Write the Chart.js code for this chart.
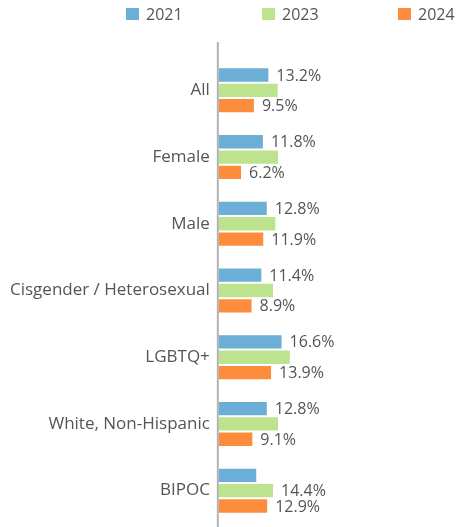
<!DOCTYPE html>
<html>
<head>
<meta charset="utf-8">
<script src="https://cdn.jsdelivr.net/npm/chart.js@4/dist/chart.umd.min.js"></script>
<style>
  html, body { margin: 0; padding: 0; background: #fff; }
  #wrap { width: 462px; height: 527px; position: relative; }
</style>
</head>
<body>
<div id="wrap"><canvas id="chart"></canvas></div>
<script>
const categories = ['All', 'Female', 'Male', 'Cisgender / Heterosexual', 'LGBTQ+', 'White, Non-Hispanic', 'BIPOC'];
const seriesNames = ['2021', '2023', '2024'];
const vals2021 = [13.2, 11.8, 12.8, 11.4, 16.6, 12.8, 10.1];
const vals2023 = [15.6, 15.7, 15.0, 14.4, 18.7, 15.7, 14.4];
const vals2024 = [9.5, 6.2, 11.9, 8.9, 13.9, 9.1, 12.9];
// which value labels are printed (the others overlap in the original)
const show2021 = [1, 1, 1, 1, 1, 1, 0];
const show2023 = [0, 0, 0, 0, 0, 0, 1];
const show2024 = [1, 1, 1, 1, 1, 1, 1];

const colors = ['#6baed6', '#bde38f', '#fd8d3c'];
const textColor = '#555';

const valueLabels = {
    id: 'valueLabels',
    afterDatasetsDraw(chart) {
        const ctx = chart.ctx;
        const shows = [show2021, show2023, show2024];
        ctx.save();
        ctx.font = '16px "Open Sans"';
        ctx.fillStyle = textColor;
        ctx.textAlign = 'left';
        ctx.textBaseline = 'middle';
        chart.data.datasets.forEach((ds, i) => {
            chart.getDatasetMeta(i).data.forEach((bar, j) => {
                if (!shows[i][j]) return;
                ctx.fillText(ds.data[j].toFixed(1) + '%', bar.x + 7, bar.y + 1);
            });
        });
        ctx.restore();
    }
};

// legend spread across the top + the axis line running full height
const topLegend = {
    id: 'topLegend',
    afterDraw(chart) {
        const ctx = chart.ctx;
        ctx.save();
        ctx.font = '16px "Open Sans"';
        ctx.textBaseline = 'middle';
        chart.data.datasets.forEach((ds, i) => {
            const x = 126 + i * 136;
            ctx.fillStyle = ds.backgroundColor;
            ctx.fillRect(x, 8, 13, 12);
            ctx.fillStyle = textColor;
            ctx.fillText(ds.label, x + 20, 15);
        });
        const left = chart.chartArea.left;
        ctx.strokeStyle = '#b3b3b3';
        ctx.lineWidth = 2;
        ctx.beginPath();
        ctx.moveTo(left, 42);
        ctx.lineTo(left, chart.height);
        ctx.stroke();
        ctx.restore();
    }
};

const ctx = document.getElementById('chart').getContext('2d');
const myChart = new Chart(ctx, {
    type: 'bar',
    data: {
        labels: categories,
        datasets: [vals2021, vals2023, vals2024].map((d, i) => ({
            label: seriesNames[i],
            data: d,
            backgroundColor: colors[i],
            borderColor: '#fff',
            borderWidth: 1,
            borderSkipped: false,
            categoryPercentage: 0.69,
            barPercentage: 1
        }))
    },
    plugins: [valueLabels, topLegend],
    options: {
        indexAxis: 'y',
        responsive: true,
        maintainAspectRatio: false,
        animation: false,
        layout: { padding: { top: 57, bottom: 3, left: 2, right: 10 } },
        plugins: {
            legend: { display: false },
            tooltip: { enabled: false }
        },
        scales: {
            x: {
                display: false,
                min: 0,
                max: 60
            },
            y: {
                grid: { display: false, drawTicks: false },
                border: { display: false },
                ticks: {
                    color: textColor,
                    padding: 8,
                    font: { family: 'Open Sans', size: 17 }
                },
                afterFit(scale) {
                    // don't let label height shrink the plot at top/bottom
                    scale.paddingTop = 0;
                    scale.paddingBottom = 0;
                }
            }
        }
    }
});
</script>
</body>
</html>
